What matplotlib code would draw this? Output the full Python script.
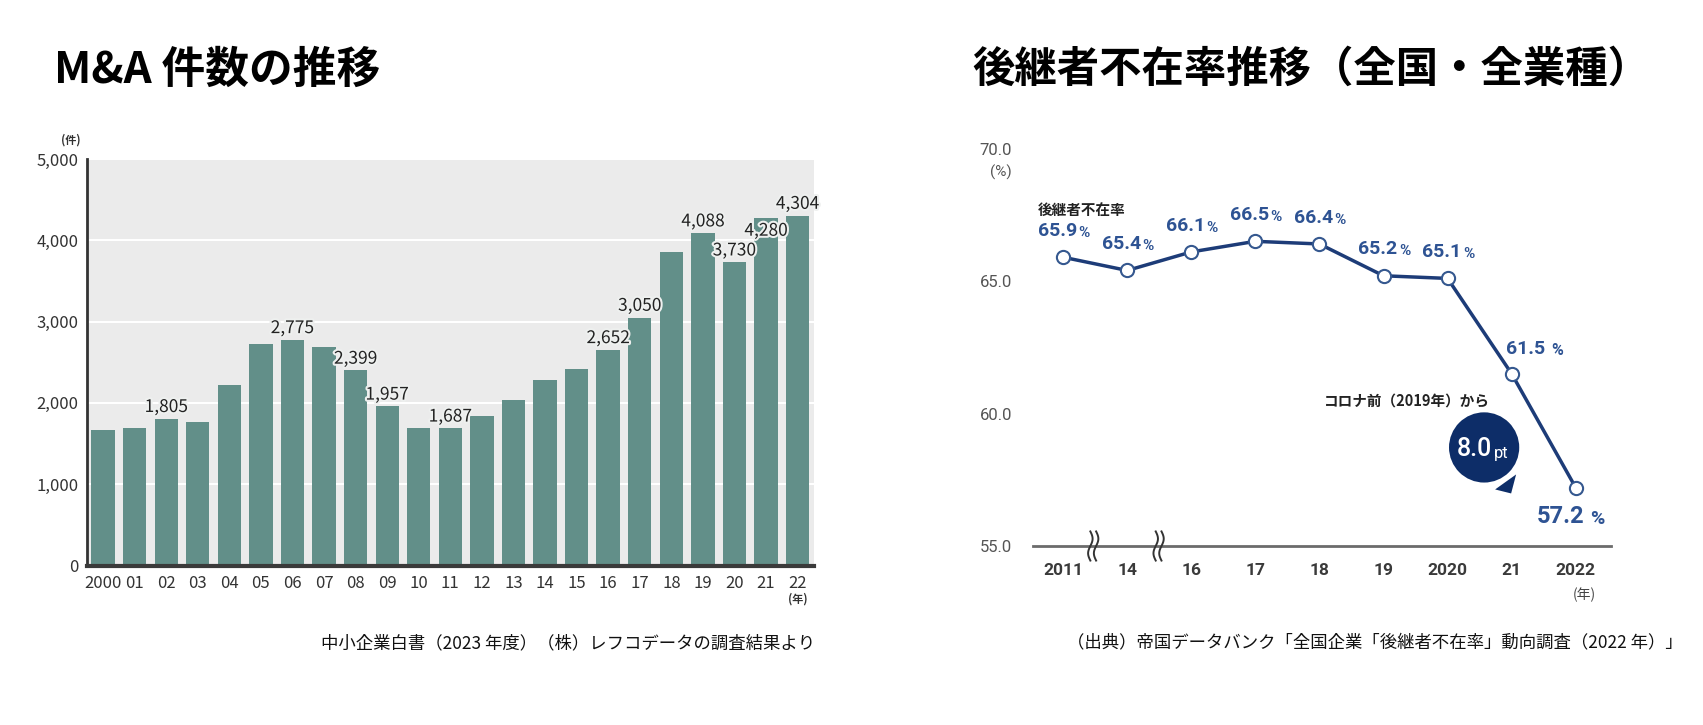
import matplotlib
matplotlib.use('Agg')
import matplotlib.pyplot as plt
import matplotlib.patheffects as pe
from matplotlib.patches import Circle, Polygon
from matplotlib.transforms import ScaledTranslation
import numpy as np

# ---------------- data ----------------
ma_years = ["2000", "01", "02", "03", "04", "05", "06", "07", "08", "09", "10", "11",
            "12", "13", "14", "15", "16", "17", "18", "19", "20", "21", "22"]
ma_counts = [1665, 1690, 1805, 1771, 2225, 2727, 2775, 2690, 2399, 1957, 1693, 1687,
             1845, 2041, 2282, 2417, 2652, 3050, 3851, 4088, 3730, 4280, 4304]
ma_labelled = ["02", "06", "08", "09", "11", "16", "17", "19", "20", "21", "22"]
ma_yticks = [0, 1000, 2000, 3000, 4000, 5000]

succ_years = ["2011", "14", "16", "17", "18", "19", "2020", "21", "2022"]
succ_rates = [65.9, 65.4, 66.1, 66.5, 66.4, 65.2, 65.1, 61.5, 57.2]
succ_yticks = [55.0, 60.0, 65.0, 70.0]

title_left = "M&A 件数の推移"
title_right = "後継者不在率推移（全国・全業種）"
caption_left = "中小企業白書（2023 年度）（株）レフコデータの調査結果より"
caption_right = "（出典）帝国データバンク「全国企業「後継者不在率」動向調査（2022 年）」"

# ---------------- setup ----------------
W, H = 1703, 725
plt.rcParams['font.family'] = ['Noto Sans CJK JP', 'DejaVu Sans']
JP = ['Noto Sans CJK JP', 'DejaVu Sans']
NARROW = ['Liberation Sans Narrow', 'Noto Sans CJK JP', 'DejaVu Sans']
NUM = ['Roboto', 'Noto Sans CJK JP', 'DejaVu Sans']

fig = plt.figure(figsize=(W / 100, H / 100), dpi=100)


def fx(px):
    return px / W


def fy(py):
    return 1 - py / H


# titles & captions
fig.text(fx(54), fy(70), title_left, fontsize=31.5, fontweight='bold', family=JP,
         ha='left', va='center', color='black')
fig.text(fx(972), fy(70), title_right, fontsize=30.5, fontweight='bold', family=JP,
         ha='left', va='center', color='black')
fig.text(fx(321), fy(643), caption_left, fontsize=12.5, family=JP, ha='left', va='center', color='#111')
fig.text(fx(1067), fy(643), caption_right, fontsize=12.5, family=JP, ha='left', va='center', color='#111')

# ---------------- left: bar chart ----------------
axL = fig.add_axes([fx(87), fy(565.5), fx(814) - fx(87), (565.5 - 159) / H])
axL.set_facecolor('#ebebeb')
xL = np.arange(len(ma_years))
axL.bar(xL, ma_counts, width=0.74, color='#628f89', zorder=3)
axL.set_xlim(-0.51, len(xL) - 1 + 0.52)
axL.set_ylim(0, 5000)
axL.set_yticks(ma_yticks)
axL.set_yticklabels([f"{v:,}" for v in ma_yticks], family=NARROW, fontsize=12, color='#333')
axL.set_xticks(xL)
axL.set_xticklabels(ma_years, family=NARROW, fontsize=12, color='#333')
axL.yaxis.grid(True, color='white', lw=1.5, zorder=1)
axL.set_axisbelow(True)
for s in ['top', 'right']:
    axL.spines[s].set_visible(False)
axL.spines['left'].set_color('#333')
axL.spines['left'].set_linewidth(2)
axL.spines['bottom'].set_color('#3a3a3a')
axL.spines['bottom'].set_linewidth(3)
axL.spines['bottom'].set_zorder(5)
axL.tick_params(axis='both', length=0)
axL.tick_params(axis='y', pad=6)
axL.tick_params(axis='x', pad=7)

glow = [pe.withStroke(linewidth=3, foreground='#eef0ef')]
for i, (yr, v) in enumerate(zip(ma_years, ma_counts)):
    if yr not in ma_labelled:
        continue
    if yr == "21":
        axL.annotate(f"{v:,}", xy=(i, v), xytext=(0, -3), textcoords='offset points',
                     ha='center', va='top', family=NARROW, fontsize=12.5, color='#222', zorder=6,
                     path_effects=glow)
    else:
        axL.annotate(f"{v:,}", xy=(i, v), xytext=(0, 2), textcoords='offset points',
                     ha='center', va='bottom', family=NARROW, fontsize=12.5, color='#222', zorder=6,
                     path_effects=glow)

axL.annotate("(件)", xy=(0, 1), xycoords='axes fraction', xytext=(-12, 14), textcoords='offset points',
             ha='center', va='center', fontsize=8, fontweight='bold', color='#333')
axL.annotate("(年)", xy=(len(xL) - 1, 0), xycoords='data', xytext=(0, -24), textcoords='offset points',
             ha='center', va='center', fontsize=8, fontweight='bold', color='#333', annotation_clip=False)

# ---------------- right: line chart ----------------
axR = fig.add_axes([fx(1033), fy(546), fx(1611) - fx(1033), (546 - 148.6) / H])
xR = np.arange(len(succ_years))
axR.set_xlim(-0.47, 8.55)
axR.set_ylim(55, 70)
line_color = '#1d3c78'
lab_color = '#2e5393'
axR.plot(xR, succ_rates, color=line_color, lw=2.5, marker='o', ms=9.5, mfc='white',
         mec='#35588f', mew=1.5, zorder=5, clip_on=False)

for s in ['top', 'right', 'left']:
    axR.spines[s].set_visible(False)
axR.spines['bottom'].set_color('#6b6b6b')
axR.spines['bottom'].set_linewidth(2)
axR.set_yticks(succ_yticks)
axR.set_yticklabels([f"{v:.1f}" for v in succ_yticks], family=NUM, fontsize=12, color='#555')
axR.set_xticks(xR)
axR.set_xticklabels(succ_years, family=NUM, fontsize=12.5, fontweight='bold', color='#3a3a3a')
axR.tick_params(axis='both', length=0)
axR.tick_params(axis='y', pad=15)
axR.tick_params(axis='x', pad=12)

axR.annotate("(%)", xy=(0, 69.1), xycoords=('axes fraction', 'data'), xytext=(-15, 0),
             textcoords='offset points', ha='right', va='center', family=NUM, fontsize=11, color='#555')
axR.annotate("(年)", xy=(8, 55), xycoords='data', xytext=(6, -35), textcoords='offset points',
             ha='center', va='center', fontsize=10, color='#444', annotation_clip=False)

# value labels
for i, v in enumerate(succ_rates):
    if i < 7:
        t = axR.annotate(f"{v:.1f}", xy=(i, v), xytext=(10, 19), textcoords='offset points',
                         ha='right', va='center', family=NUM, fontsize=14, fontweight='bold', color=lab_color)
        axR.annotate("%", xy=(1, 0), xycoords=t, xytext=(1, 0), textcoords='offset points',
                     ha='left', va='bottom', family=NUM, fontsize=11, fontweight='bold', color=lab_color)
    elif i == 7:
        t = axR.annotate(f"{v:.1f}", xy=(i, v), xytext=(-4, 18), textcoords='offset points',
                         ha='left', va='center', family=NUM, fontsize=14, fontweight='bold', color=lab_color)
        axR.annotate("%", xy=(1, 0), xycoords=t, xytext=(4, 0), textcoords='offset points',
                     ha='left', va='bottom', family=NUM, fontsize=11.5, fontweight='bold', color=lab_color)
    else:
        t = axR.annotate(f"{v:.1f}", xy=(i, v), xytext=(6, -21), textcoords='offset points',
                         ha='right', va='center', family=NUM, fontsize=17, fontweight='bold', color=lab_color,
                         annotation_clip=False)
        axR.annotate("%", xy=(1, 0), xycoords=t, xytext=(4, 0), textcoords='offset points',
                     ha='left', va='bottom', family=NUM, fontsize=14, fontweight='bold', color=lab_color,
                     annotation_clip=False)

axR.annotate("後継者不在率", xy=(0, succ_rates[0]), xytext=(-18, 34), textcoords='offset points',
             ha='left', va='center', fontsize=10.5, fontweight='bold', color='#222', family=JP)

# axis break marks between 2011-14 and 14-16
tt = np.linspace(0, 1, 60)
for xb in [0.47, 1.49]:
    for dx in [-0.045, 0.045]:
        axR.plot(xb + dx + 0.035 * np.sin(2 * np.pi * tt), 55.55 - 1.1 * tt, color='#333', lw=1.4,
                 clip_on=False, zorder=6)

# callout bubble "8.0pt"
tr = fig.dpi_scale_trans + ScaledTranslation(6.57, 58.72, axR.transData)
axR.add_patch(Polygon([(0.32, -0.27), (0.11, -0.42), (0.27, -0.46)], closed=True, transform=tr,
                      fc='#0d2d68', ec='none', zorder=7, clip_on=False))
axR.add_patch(Circle((0, 0), 0.365, transform=tr, fc='#0d2d68', ec='white', lw=2, zorder=8, clip_on=False))
t8 = axR.text(0.08, -0.09, "8.0", transform=tr, ha='right', va='baseline', family=NUM,
              fontsize=18, fontweight='medium', color='white', zorder=9)
axR.annotate("pt", xy=(1, 0), xycoords=t8, xytext=(1, 0), textcoords='offset points',
             ha='left', va='bottom', family=NUM, fontsize=12, color='white', zorder=9)
axR.text(-1.60, 0.47, "コロナ前（2019年）から", transform=tr, ha='left', va='center',
         fontsize=10.5, fontweight='bold', color='#222', family=JP)

fig.savefig('out.png', dpi=100, facecolor='white')
